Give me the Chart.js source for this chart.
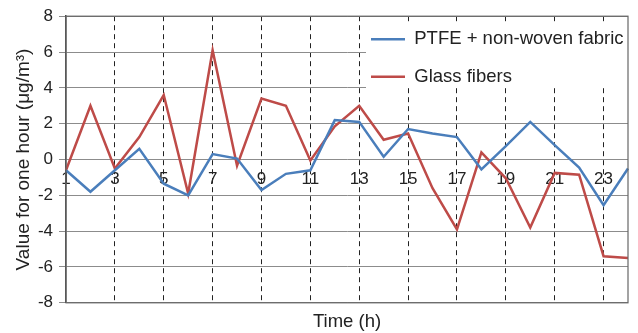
<!DOCTYPE html>
<html>
<head>
<meta charset="utf-8">
<title>Value for one hour</title>
<script src="https://cdn.jsdelivr.net/npm/chart.js@4"></script>
<style>
    html, body { margin: 0; padding: 0; background: #fff; }
    #wrap { width: 638px; height: 333px; }
</style>
</head>
<body>
<div id="wrap"><canvas id="hourChart" width="638" height="333"></canvas></div>
<script>
// data
const hours = ['1', '2', '3', '4', '5', '6', '7', '8', '9', '10', '11', '12',
    '13', '14', '15', '16', '17', '18', '19', '20', '21', '22', '23', '24'];
const ptfeValues = [-0.6, -1.8, -0.6, 0.6, -1.35, -2.0, 0.3, 0.05, -1.7, -0.8, -0.6, 2.2,
    2.1, 0.15, 1.7, 1.45, 1.25, -0.55, 0.75, 2.1, 0.8, -0.45, -2.55, -0.5];
const glassValues = [-0.6, 3.0, -0.5, 1.25, 3.6, -1.9, 6.1, -0.35, 3.4, 3.0, -0.05, 1.85,
    3.0, 1.1, 1.45, -1.6, -3.9, 0.4, -1.05, -3.8, -0.75, -0.85, -5.4, -5.5];
const yTicks = [-8, -6, -4, -2, 0, 2, 4, 6, 8];

const fontFamily = '"Liberation Sans", Arial, Helvetica, sans-serif';
const textColor = '#222';

// white box behind the legend, legend drawn again on top, then plot frame
const legendBoxPlugin = {
    id: 'legendBox',
    afterLayout(chart) {
        const lg = chart.legend;
        lg.left = 352;
        lg.top = 11;
        lg.right = 632;
        lg.bottom = 120;
        lg.width = lg.right - lg.left;
        lg.height = lg.bottom - lg.top;
    },
    afterDraw(chart) {
        const ctx = chart.ctx;
        const area = chart.chartArea;
        ctx.save();
        ctx.fillStyle = '#fff';
        ctx.fillRect(366, 22, 266, 66);
        ctx.restore();
        chart.legend.draw();

        ctx.save();
        ctx.strokeStyle = '#666';
        ctx.lineWidth = 1.2;
        ctx.strokeRect(area.left, area.top, area.right - area.left, area.bottom - area.top);
        ctx.restore();
    }
};

const ctx = document.getElementById('hourChart').getContext('2d');
const hourChart = new Chart(ctx, {
    type: 'line',
    data: {
        labels: hours,
        datasets: [{
            label: 'PTFE + non-woven fabric',
            data: ptfeValues,
            borderColor: '#4a7ebb',
            backgroundColor: '#4a7ebb',
            borderWidth: 2.5,
            pointRadius: 0,
            tension: 0
        }, {
            label: 'Glass fibers',
            data: glassValues,
            borderColor: '#be4b48',
            backgroundColor: '#be4b48',
            borderWidth: 2.5,
            pointRadius: 0,
            tension: 0
        }]
    },
    options: {
        responsive: false,
        animation: false,
        layout: { padding: { top: 15, right: 2, left: 0, bottom: 0 } },
        plugins: {
            tooltip: { enabled: false },
            legend: {
                position: 'chartArea',
                align: 'start',
                labels: {
                    usePointStyle: true,
                    pointStyle: 'line',
                    pointStyleWidth: 34,
                    padding: 19,
                    color: textColor,
                    font: { family: fontFamily, size: 18.5 }
                }
            },
            title: {
                display: true,
                position: 'bottom',
                fullSize: false,
                text: 'Time (h)',
                color: textColor,
                font: { family: fontFamily, size: 18.5, weight: 'normal' },
                padding: { top: 8, bottom: 0 }
            }
        },
        scales: {
            x: {
                type: 'category',
                position: { y: 0 },
                offset: false,
                grid: {
                    drawTicks: false,
                    lineWidth: 1,
                    color: (c) => (c.index % 2 === 0 && c.index > 0 && c.index < hours.length - 1) ? '#222' : 'rgba(0,0,0,0)'
                },
                border: { display: false, dash: [5, 4] },
                ticks: {
                    autoSkip: false,
                    maxRotation: 0,
                    padding: 10,
                    color: textColor,
                    font: { family: fontFamily, size: 17 },
                    callback: function(val, i) {
                        return i % 2 === 0 ? this.getLabelForValue(val) : '';
                    }
                }
            },
            y: {
                min: yTicks[0],
                max: yTicks[yTicks.length - 1],
                afterFit: (scale) => { scale.width = 66; },
                afterBuildTicks: (scale) => { scale.ticks = yTicks.map(v => ({ value: v })); },
                grid: { color: '#8c8c8c', lineWidth: 1, tickLength: 7 },
                border: { color: '#444', width: 1.5 },
                ticks: {
                    padding: 6,
                    color: textColor,
                    font: { family: fontFamily, size: 17 }
                },
                title: {
                    display: true,
                    text: 'Value for one hour (μg/m³)',
                    color: textColor,
                    font: { family: fontFamily, size: 19 },
                    padding: { top: 12, bottom: 0 }
                }
            }
        }
    },
    plugins: [legendBoxPlugin]
});
</script>
</body>
</html>
